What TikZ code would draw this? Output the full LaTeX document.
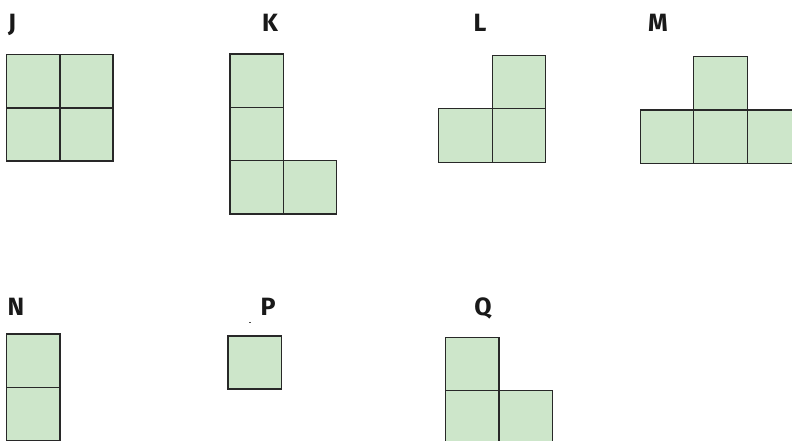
\documentclass[tikz,border=0pt]{standalone}
\usepackage{fontspec}
\setmainfont{Fira Sans}
\begin{document}
\begin{tikzpicture}[x=1pt,y=-1pt,
  cell/.style={fill=cellgreen,draw=cellline,line width=1.2pt},
  lab/.style={anchor=base,font=\bfseries\fontsize{25}{25}\selectfont,text=black!90,inner sep=0pt}]
\definecolor{cellgreen}{RGB}{205,230,202}
\definecolor{cellline}{RGB}{40,40,40}
\useasboundingbox (0,0) rectangle (792,441);
% J
\node[lab] (lJ) at (12,31.5) {J};
\draw[cell] (6.5,54.5) rectangle (113,161);
\draw[cellline,line width=1.2pt] (60,54.5) -- (60,161) (6.5,108) -- (113,108);
% K
\node[lab] (lK) at (270,31.5) {K};
\draw[cell] (230,54) rectangle (283.3,107.3);
\draw[cell] (230,107.3) rectangle (283.3,160.6);
\draw[cell] (230,160.6) rectangle (283.3,214);
\draw[cell] (283.3,160.6) rectangle (336.7,214);
% L
\node[lab] (lL) at (480,31.5) {L};
\draw[cell] (492.3,55.3) rectangle (545.7,108.7);
\draw[cell] (438.7,108.7) rectangle (492.3,162.3);
\draw[cell] (492.3,108.7) rectangle (545.7,162.3);
% M
\node[lab] (lM) at (658,31.5) {M};
\draw[cell] (693.7,56.7) rectangle (747.3,110);
\draw[cell] (640.3,110) rectangle (693.7,163.3);
\draw[cell] (693.7,110) rectangle (747.3,163.3);
\draw[cell] (747.3,110) rectangle (800.7,163.3);
% N
\node[lab] (lN) at (16,315.5) {N};
\draw[cell] (6.7,334) rectangle (60,387.3);
\draw[cell] (6.7,387.3) rectangle (60,440.6);
% P
\node[lab] (lP) at (268,315.5) {P};
\draw[black!70,line width=0.8pt] (249.3,322.3) -- (251,322.3);
\draw[cell] (228,336) rectangle (281.7,389);
% Q
\node[lab] (lQ) at (483,315.5) {Q};
\draw[cell] (445.7,337.7) rectangle (499,390.7);
\draw[cell] (445.7,390.7) rectangle (499,444);
\draw[cell] (499,390.7) rectangle (552.3,444);
\end{tikzpicture}
\end{document}
